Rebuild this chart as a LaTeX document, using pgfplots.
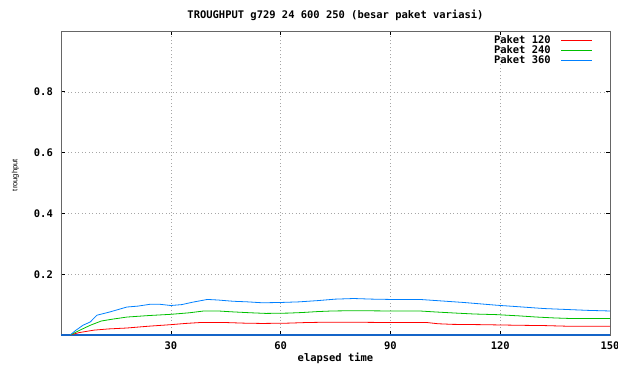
\documentclass[border=0pt]{standalone}
\usepackage{fontspec}
\setmonofont{DejaVu Sans Mono}
\newfontfamily\labfont{Liberation Sans}
\usepackage{pgfplots}
\pgfplotsset{compat=1.18}
\definecolor{gred}{RGB}{255,0,0}
\definecolor{ggreen}{RGB}{0,192,0}
\definecolor{gblue}{RGB}{0,128,255}
\definecolor{gbase}{RGB}{20,100,200}
\newcommand{\gfont}{\fontsize{10.5}{10}\selectfont\ttfamily\bfseries}
\begin{document}
\begin{tikzpicture}
\begin{axis}[
  name=ax,
  scale only axis,
  width=549bp, height=304bp,
  xmin=0, xmax=150, ymin=0, ymax=1,
  xtick={30,60,90,120,150},
  ytick={0.2,0.4,0.6,0.8},
  yticklabel style={/pgf/number format/fixed, /pgf/number format/precision=1},
  /pgf/number format/assume math mode=true,
  tick label style={font=\gfont},
  xticklabel style={anchor=center, yshift=-11bp},
  yticklabel style={anchor=east, inner sep=0pt, xshift=-8bp},
  axis line style={draw=gray!80!black, line width=0.8bp},
  tick style={black, line width=0.6bp},
  major tick length=4bp,
  tick align=inside,
  grid=major,
  major grid style={gray!70, line width=0.5bp, dash pattern=on 1bp off 2.5bp},
  every axis title shift=0pt,
  title={TROUGHPUT g729 24 600 250 (besar paket variasi)},
  title style={font=\gfont, at={(axis description cs:0.5,1.0526)}, anchor=center},
  xlabel={elapsed time},
  xlabel style={font=\gfont, at={(axis description cs:0.5,-0.0757)}, anchor=center},
  ylabel={troughput},
  ylabel style={font=\fontsize{7.6}{8}\selectfont\labfont, at={(axis description cs:-0.083,0.526)}, anchor=center},
  legend plot pos=right,
  legend image code/.code={\path (0bp,0bp); \draw[#1, line width=0.8bp] (10bp,3.5bp) -- (41bp,3.5bp);},
  legend style={at={(axis description cs:1,1)}, anchor=north east, xshift=-14bp, yshift=-2bp,
    draw=none, fill=none, font=\gfont, row sep=0pt,
    nodes={inner sep=0.3bp, anchor=base}},
  legend cell align=right,
  every axis plot/.append style={line width=0.8bp},
]
\addplot[gbase, line width=1.8bp, forget plot] coordinates {(0,0) (150,0)};
\addplot[gred] coordinates {
(2.5,0) (5,0.008) (9,0.016) (13,0.02) (18,0.023) (24,0.029) (30,0.034) (34,0.038) (38,0.041) (45,0.041) (50,0.039) (55,0.038) (62,0.039) (67,0.041) (72,0.042) (80,0.042) (90,0.041) (100,0.041) (103,0.037) (107,0.035) (115,0.034) (125,0.032) (132,0.031) (138,0.029) (150,0.029)};
\addlegendentry{Paket 120}
\addplot[ggreen] coordinates {
(2.5,0) (5,0.015) (8,0.032) (11,0.046) (14,0.052) (18,0.059) (24,0.064) (30,0.068) (35,0.073) (39,0.079) (43,0.079) (47,0.076) (52,0.073) (56,0.071) (62,0.072) (66,0.074) (70,0.077) (74,0.079) (80,0.08) (90,0.079) (98,0.079) (102,0.076) (108,0.072) (113,0.069) (119,0.067) (125,0.063) (130,0.059) (135,0.056) (140,0.054) (150,0.054)};
\addlegendentry{Paket 240}
\addplot[gblue] coordinates {
(2.5,0) (4,0.015) (6,0.032) (8,0.043) (9.8,0.065) (13.4,0.076) (18,0.092) (21,0.095) (24.3,0.101) (27,0.101) (30,0.097) (33,0.1) (36,0.108) (40,0.117) (43,0.115) (47,0.111) (51,0.109) (55,0.106) (60,0.107) (65,0.109) (70,0.113) (75,0.118) (80,0.12) (85,0.118) (90,0.117) (98,0.117) (104,0.112) (110,0.107) (115,0.102) (119,0.098) (125,0.093) (132,0.087) (138,0.084) (144,0.081) (150,0.079)};
\addlegendentry{Paket 360}
\end{axis}
\pgfresetboundingbox
\path[use as bounding box] ([shift={(-61bp,-31bp)}]ax.south west) rectangle ([shift={(8bp,31bp)}]ax.north east);
\end{tikzpicture}
\end{document}
